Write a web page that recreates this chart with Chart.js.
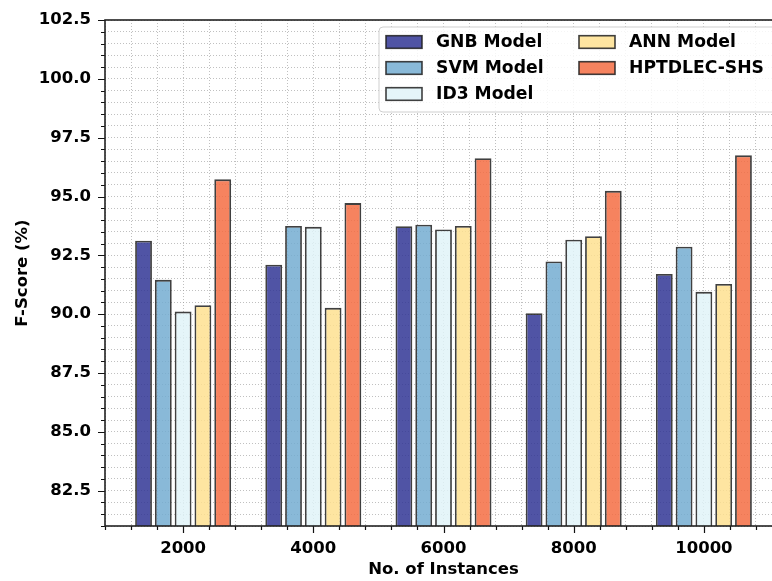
<!DOCTYPE html>
<html>
<head>
<meta charset="utf-8">
<script src="https://cdn.jsdelivr.net/npm/chart.js@4.4.1/dist/chart.umd.min.js"></script>
<style>
  html, body { margin: 0; padding: 0; background: #fff; overflow: hidden; }
  #wrap { width: 790px; height: 581px; }
</style>
</head>
<body>
<div id="wrap"><canvas id="fscoreChart" width="790" height="581"></canvas></div>
<script>
const instances = [2000, 4000, 6000, 8000, 10000];
const modelNames = ['GNB Model', 'SVM Model', 'ID3 Model', 'ANN Model', 'HPTDLEC-SHS'];

const gnbScores = [93.12, 92.10, 93.74, 90.04, 91.71];
const svmScores = [91.46, 93.75, 93.80, 92.24, 92.87];
const id3Scores = [90.11, 93.71, 93.60, 93.16, 90.95];
const annScores = [90.38, 90.27, 93.75, 93.31, 91.28];
const hptScores = [95.73, 94.72, 96.63, 95.24, 96.75];

const barColors = [
  'rgba(49,54,149,0.85)',
  'rgba(116,173,209,0.85)',
  'rgba(224,243,248,0.85)',
  'rgba(254,224,144,0.85)',
  'rgba(244,109,67,0.85)'
];

const allScores = [gnbScores, svmScores, id3Scores, annScores, hptScores];
const FONT = '"DejaVu Sans", sans-serif';

const datasets = allScores.map((scores, i) => ({
  label: modelNames[i],
  data: scores.map((v, j) => ({ x: instances[j], y: v })),
  backgroundColor: barColors[i],
  borderColor: 'rgba(30,30,30,0.85)',
  borderWidth: 1.8,
  borderSkipped: false,
  categoryPercentage: 3.8,
  barPercentage: 0.85
}));

function isMajorY(v) {
  return Math.abs(v / 2.5 - Math.round(v / 2.5)) < 1e-6;
}

// matplotlib-like ticks, frame and a column-major legend
const extras = {
  id: 'extras',
  afterDraw(chart) {
    const { ctx, chartArea: a, scales: { x, y } } = chart;
    ctx.save();
    ctx.strokeStyle = '#111';
    ctx.lineWidth = 1.2;
    ctx.beginPath();
    x.ticks.forEach(t => {
      const px = Math.round(x.getPixelForValue(t.value)) + 0.5;
      const len = t.value % 2000 === 0 ? 7 : 4;
      ctx.moveTo(px, a.bottom);
      ctx.lineTo(px, a.bottom + len);
    });
    y.ticks.forEach(t => {
      const py = Math.round(y.getPixelForValue(t.value)) + 0.5;
      const len = isMajorY(t.value) ? 7 : 4;
      ctx.moveTo(a.left, py);
      ctx.lineTo(a.left - len, py);
    });
    ctx.stroke();

    ctx.strokeStyle = '#222';
    ctx.lineWidth = 1.6;
    ctx.strokeRect(a.left, a.top, a.right - a.left, a.bottom - a.top);

    // legend
    const lx = 379, ly = 27, lw = 397, lh = 85;
    ctx.beginPath();
    ctx.roundRect(lx, ly, lw, lh, 4);
    ctx.fillStyle = 'rgba(255,255,255,0.85)';
    ctx.fill();
    ctx.strokeStyle = '#cfcfcf';
    ctx.lineWidth = 1;
    ctx.stroke();

    const cols = [386, 579];
    const rows = [42, 68, 94];
    ctx.font = 'bold 17.2px ' + FONT;
    ctx.textBaseline = 'middle';
    ctx.textAlign = 'left';
    chart.data.datasets.forEach((ds, i) => {
      const c = i < 3 ? 0 : 1;
      const r = i < 3 ? i : i - 3;
      const sx = cols[c], sy = rows[r];
      ctx.fillStyle = ds.backgroundColor;
      ctx.fillRect(sx, sy - 6.3, 36, 12.6);
      ctx.strokeStyle = ds.borderColor;
      ctx.lineWidth = 1.6;
      ctx.strokeRect(sx, sy - 6.3, 36, 12.6);
      ctx.fillStyle = '#000';
      ctx.fillText(ds.label, sx + 50, sy + 1);
    });
    ctx.restore();
  }
};

const fscoreChart = new Chart(document.getElementById('fscoreChart').getContext('2d'), {
  type: 'bar',
  data: { datasets },
  options: {
    responsive: false,
    animation: false,
    layout: { padding: { top: 20, right: 8, left: 0, bottom: 0 } },
    plugins: {
      legend: { display: false },
      tooltip: { enabled: false }
    },
    scales: {
      x: {
        type: 'linear',
        min: 800,
        max: 11200,
        offset: false,
        grid: {
          offset: false,
          color: 'rgba(150,150,150,0.75)',
          lineWidth: 0.8,
          tickLength: 7,
          tickColor: 'rgba(0,0,0,0)'
        },
        border: { display: false, dash: [1, 2] },
        ticks: {
          stepSize: 400,
          autoSkip: false,
          maxRotation: 0,
          padding: 6,
          color: '#000',
          font: { family: FONT, size: 16.5, weight: 'bold' },
          callback: v => (v % 2000 === 0 ? String(v) : '')
        },
        title: {
          display: true,
          text: 'No. of Instances',
          color: '#000',
          font: { family: FONT, size: 16.5, weight: 'bold' },
          padding: { top: 0, bottom: 1 }
        },
        afterFit: s => { s.height = 55; }
      },
      y: {
        min: 81,
        max: 102.5,
        grid: {
          color: 'rgba(150,150,150,0.75)',
          lineWidth: 0.8,
          tickLength: 7,
          tickColor: 'rgba(0,0,0,0)'
        },
        border: { display: false, dash: [1, 2] },
        ticks: {
          stepSize: 0.5,
          autoSkip: false,
          padding: 7,
          color: '#000',
          font: { family: FONT, size: 16.5, weight: 'bold' },
          callback: v => (isMajorY(v) ? v.toFixed(1) : '')
        },
        title: {
          display: true,
          text: 'F-Score (%)',
          color: '#000',
          font: { family: FONT, size: 16.5, weight: 'bold' },
          padding: { top: 13, bottom: 0 }
        },
        afterFit: s => { s.width = 105; }
      }
    }
  },
  plugins: [extras]
});
</script>
</body>
</html>
